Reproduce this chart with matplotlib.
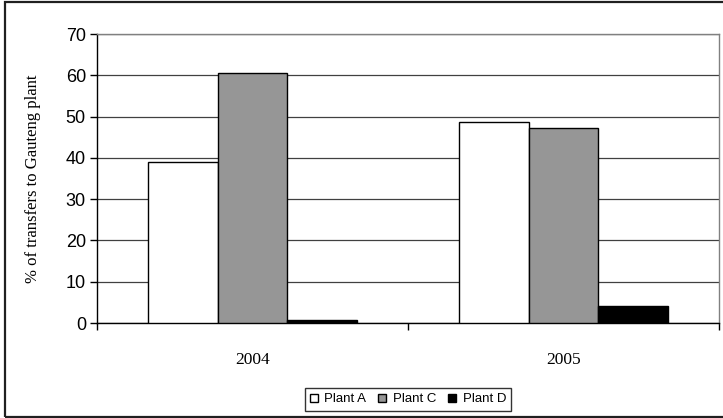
import matplotlib.pyplot as plt
import numpy as np
from matplotlib.patches import Patch, Rectangle

# Share of transfers to the Gauteng plant, by year and source plant
years = ["2004", "2005"]
plants = ["Plant A", "Plant C", "Plant D"]
plant_a = [38.9, 48.8]
plant_c = [60.5, 47.3]
plant_d = [0.8, 4.1]

colors = ["white", "#969696", "black"]
serif = ["Liberation Serif", "DejaVu Serif"]
sans = ["Liberation Sans", "DejaVu Sans"]

fig = plt.figure(figsize=(7.23, 4.18), dpi=100)
fig.patch.set_facecolor("white")
ax = fig.add_axes([97 / 723, 1 - 323 / 418, 622 / 723, 289 / 418])

# outer chart frame
fig.patches.append(Rectangle((5 / 723, 1.5 / 418), 1.0, 1 - 3.5 / 418,
                             transform=fig.transFigure, fill=False,
                             edgecolor="#202020", linewidth=1.6, zorder=0))

x = np.arange(len(years))
width = 0.225
for i, (vals, col) in enumerate(zip([plant_a, plant_c, plant_d], colors)):
    ax.bar(x + (i - 1) * width, vals, width, color=col, edgecolor="black",
           linewidth=1.0, zorder=3)

ax.set_xlim(-0.5, 1.5)
ax.set_ylim(0, 70)
ax.set_yticks(range(0, 71, 10))
ax.yaxis.grid(True, color="#404040", linewidth=0.9, zorder=0)
ax.set_axisbelow(True)

# ticks at category boundaries, labels centred on each group
ax.set_xticks([-0.5, 0.5, 1.5])
ax.set_xticklabels([])
ax.set_xticks(x, minor=True)
ax.set_xticklabels(years, minor=True, fontfamily=serif, fontsize=12.5)
ax.tick_params(axis="x", which="major", direction="out", length=5, width=1)
ax.tick_params(axis="x", which="minor", length=0, pad=21)
ax.tick_params(axis="y", direction="out", length=5, width=1, labelsize=13, pad=3)
for lab in ax.get_yticklabels():
    lab.set_fontfamily(sans)

for side in ["top", "right"]:
    ax.spines[side].set_color("#808080")
    ax.spines[side].set_linewidth(1.0)
for side in ["left", "bottom"]:
    ax.spines[side].set_color("black")
    ax.spines[side].set_linewidth(1.0)

ax.set_ylabel("% of transfers to Gauteng plant", fontfamily=serif, fontsize=12)
ax.yaxis.set_label_coords(-0.09, 0.5)

handles = [Patch(facecolor=c, edgecolor="black", linewidth=1.0) for c in colors]
leg = fig.legend(handles, plants, loc="center", bbox_to_anchor=(408 / 723, 1 - 399.5 / 418),
                 ncol=3, prop={"family": sans, "size": 9.5}, frameon=True, fancybox=False,
                 handlelength=0.6, handleheight=0.6, handletextpad=0.5, columnspacing=0.9,
                 borderpad=0.4, borderaxespad=0)
leg.get_frame().set_edgecolor("black")
leg.get_frame().set_linewidth(1.0)

fig.savefig("out.png", dpi=100)
